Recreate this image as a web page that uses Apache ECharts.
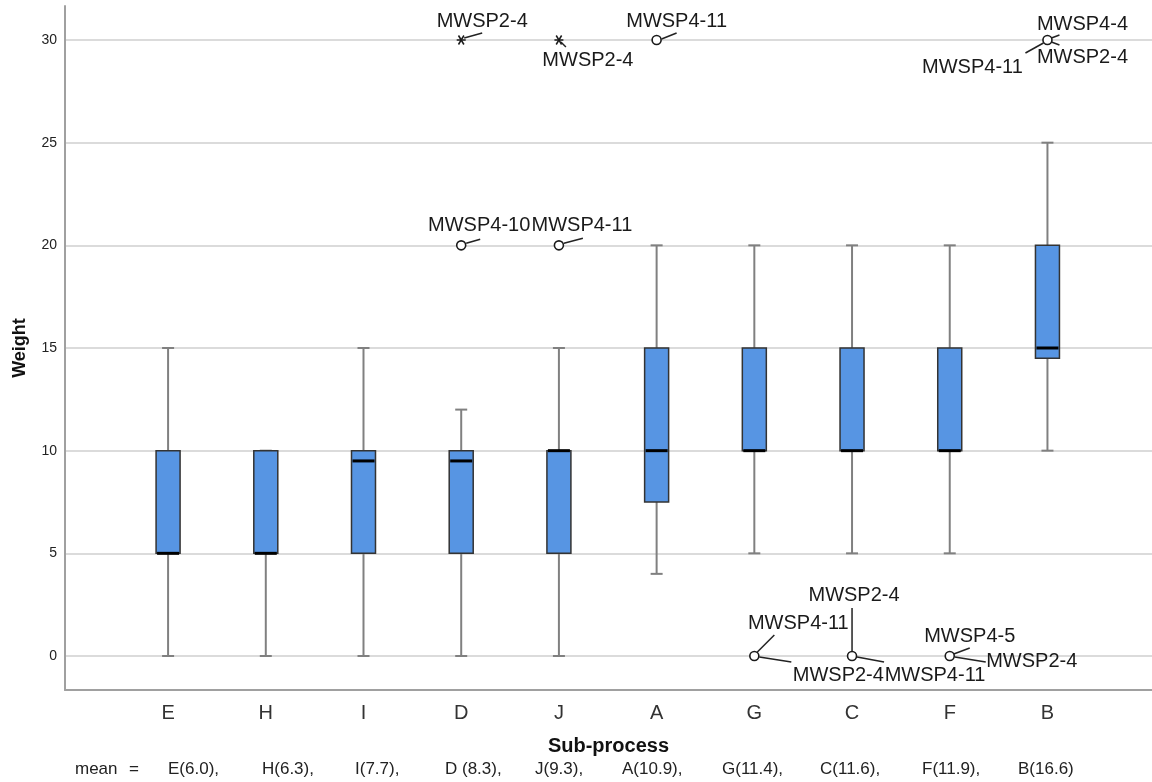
<!DOCTYPE html>
<html><head><meta charset="utf-8">
<script src="https://cdn.jsdelivr.net/npm/echarts@6/dist/echarts.min.js"></script>
<style>html,body{margin:0;padding:0;background:#fff}#c{width:1152px;height:782px}</style>
</head><body><div id="c"></div>
<script>
// ---- data ----
const categories = ['E','H','I','D','J','A','G','C','F','B'];
const whiskerLow  = [0, 0, 0,   0,   0,  4,   5,  5,  5,  10];
const q1          = [5, 5, 5,   5,   5,  7.5, 10, 10, 10, 14.5];
const medians     = [5, 5, 9.5, 9.5, 10, 10,  10, 10, 10, 15];
const q3          = [10,10,10,  10,  10, 15,  15, 15, 15, 20];
const whiskerHigh = [15,10,15,  12,  15, 20,  20, 20, 20, 25];
const means = [6.0, 6.3, 7.7, 8.3, 9.3, 10.9, 11.4, 11.6, 11.9, 16.6];
const meanLabels = ['E(6.0),','H(6.3),','I(7.7),','D (8.3),','J(9.3),','A(10.9),','G(11.4),','C(11.6),','F(11.9),','B(16.6)'];
const outlierCats   = ['D','D','J','J','A','G','C','F','B'];
const outlierValues = [20, 30, 20, 30, 30, 0, 0, 0, 30];
const outlierKinds  = ['circle','star','circle','star','circle','circle','circle','circle','circle'];
const outlierLabels = [['MWSP4-10'],['MWSP2-4'],['MWSP4-11'],['MWSP2-4'],['MWSP4-11'],
  ['MWSP4-11','MWSP2-4'],['MWSP2-4','MWSP4-11'],['MWSP4-5','MWSP2-4'],['MWSP4-4','MWSP2-4','MWSP4-11']];
const yTickValues = [0,5,10,15,20,25,30];

// ---- layout (pixel offsets of annotation leader lines / texts, not data) ----
// [lineX1,lineY1,lineX2,lineY2,textDx,textDy]
const labelPlacement = [
  [[5,-2,19,-6,18,-20]],
  [[3,-2,21,-7,21,-19]],
  [[5,-2,24,-7,23,-20]],
  [[2,2,7,7,29,20]],
  [[5,-1,20,-7,20,-19]],
  [[3,-4,20,-21,44,-33],[5,1,37,6,84,19]],
  [[0,-5,0,-48,2,-61],[5,1,32,6,83,19]],
  [[4,-2,20,-8,20,-20],[5,1,36,6,82,5]],
  [[4,-2,12,-5,35,-16],[4,2,12,5,35,17],[-4,3,-22,13,-75,27]]
];
const meanTextX = [168,262,355,445,535,622,722,820,922,1018];

const FONT = '"Liberation Sans", Arial, sans-serif';
const boxData = categories.map((c,i)=>[i, whiskerLow[i], q1[i], medians[i], q3[i], whiskerHigh[i]]);
const outData = outlierCats.map((c,k)=>[categories.indexOf(c), outlierValues[k]]);

function renderBox(params, api) {
  const i = api.value(0);
  const lo = api.coord([i, api.value(1)]);
  const b1 = api.coord([i, api.value(2)]);
  const md = api.coord([i, api.value(3)]);
  const b3 = api.coord([i, api.value(4)]);
  const hi = api.coord([i, api.value(5)]);
  const x = lo[0], hw = 12, cw = 6;
  const ws = {stroke:'#808080', lineWidth:2};
  return {type:'group', children:[
    {type:'line', shape:{x1:x,y1:lo[1],x2:x,y2:b1[1]}, style:ws},
    {type:'line', shape:{x1:x,y1:b3[1],x2:x,y2:hi[1]}, style:ws},
    {type:'line', shape:{x1:x-cw,y1:lo[1],x2:x+cw,y2:lo[1]}, style:ws},
    {type:'line', shape:{x1:x-cw,y1:hi[1],x2:x+cw,y2:hi[1]}, style:ws},
    {type:'rect', shape:{x:x-hw,y:b3[1],width:2*hw,height:b1[1]-b3[1]}, style:{fill:'#5795e3',stroke:'#333',lineWidth:1.5}},
    {type:'line', shape:{x1:x-hw+1,y1:md[1],x2:x+hw-1,y2:md[1]}, style:{stroke:'#000',lineWidth:3}}
  ]};
}

function renderOutlier(params, api) {
  const k = params.dataIndex;
  const p = api.coord([api.value(0), api.value(1)]);
  const ch = [];
  outlierLabels[k].forEach((t, j) => {
    const L = labelPlacement[k][j];
    ch.push({type:'line', shape:{x1:p[0]+L[0],y1:p[1]+L[1],x2:p[0]+L[2],y2:p[1]+L[3]}, style:{stroke:'#222',lineWidth:1.5}});
    ch.push({type:'text', x:p[0]+L[4], y:p[1]+L[5], style:{text:t, fill:'#1a1a1a', font:'20px '+FONT, align:'center', verticalAlign:'middle'}});
  });
  if (outlierKinds[k] === 'circle') {
    ch.push({type:'circle', shape:{cx:p[0],cy:p[1],r:4.5}, style:{fill:'#fff',stroke:'#1a1a1a',lineWidth:1.6}});
  } else {
    const r = 4.5, d = r*0.6;
    ch.push({type:'line', shape:{x1:p[0]-r,y1:p[1],x2:p[0]+r,y2:p[1]}, style:{stroke:'#1a1a1a',lineWidth:1.5}});
    ch.push({type:'line', shape:{x1:p[0]-d,y1:p[1]-r,x2:p[0]+d,y2:p[1]+r}, style:{stroke:'#1a1a1a',lineWidth:1.5}});
    ch.push({type:'line', shape:{x1:p[0]+d,y1:p[1]-r,x2:p[0]-d,y2:p[1]+r}, style:{stroke:'#1a1a1a',lineWidth:1.5}});
  }
  return {type:'group', children:ch};
}

const graphics = [{type:'text', left:75, top:761, style:{text:'mean', font:'17px '+FONT, fill:'#222'}},
                  {type:'text', left:129, top:761, style:{text:'=', font:'17px '+FONT, fill:'#222'}}];
meanLabels.forEach((t,i)=>graphics.push({type:'text', left:meanTextX[i], top:761, style:{text:t, font:'17px '+FONT, fill:'#222'}}));

const chart = echarts.init(document.getElementById('c'), null, {renderer:'canvas'});
chart.setOption({
  animation:false,
  backgroundColor:'#fff',
  grid:{left:65, right:0, top:6, bottom:92, containLabel:false},
  xAxis:{type:'value', min:-1.055, max:10.07, minInterval:1, maxInterval:1,
    name:'Sub-process', nameLocation:'middle', nameGap:46,
    nameTextStyle:{fontFamily:FONT, fontWeight:'bold', fontSize:20, color:'#111'},
    axisLine:{onZero:false, lineStyle:{color:'#a0a0a0', width:2}},
    axisTick:{show:false}, splitLine:{show:false},
    axisLabel:{showMinLabel:false, showMaxLabel:false, margin:13, fontFamily:FONT, fontSize:20, color:'#333',
      formatter:v=>{const r=Math.round(v); return (Math.abs(v-r)<1e-6 && r>=0 && r<categories.length)?categories[r]:'';}}},
  yAxis:{type:'value', min:-1.656, max:31.656, minInterval:5, maxInterval:5,
    name:'Weight', nameLocation:'middle', nameRotate:90, nameGap:36,
    nameTextStyle:{fontFamily:FONT, fontWeight:'bold', fontSize:18, color:'#111'},
    axisLine:{show:true, onZero:false, lineStyle:{color:'#a0a0a0', width:2}},
    axisTick:{show:false},
    splitLine:{show:true, showMinLine:false, showMaxLine:false, lineStyle:{color:'#cfcfcf', width:1.5}},
    axisLabel:{showMinLabel:false, showMaxLabel:false, margin:8, fontFamily:FONT, fontSize:14, color:'#222',
      formatter:v=>{const r=Math.round(v); return (Math.abs(v-r)<1e-6 && yTickValues.indexOf(r)>=0)?String(r):'';}}},
  graphic:graphics,
  series:[
    {type:'custom', renderItem:renderBox, data:boxData, encode:{x:0, y:[1,2,3,4,5]}, z:3},
    {type:'custom', renderItem:renderOutlier, data:outData, encode:{x:0, y:1}, z:4}
  ]
});
</script></body></html>
